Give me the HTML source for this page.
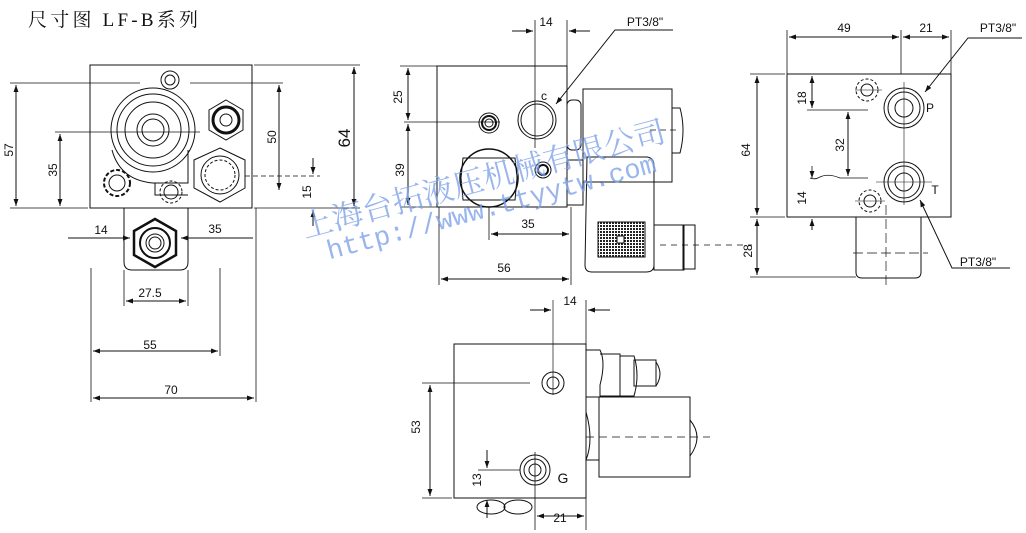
<!DOCTYPE html>
<html><head><meta charset="utf-8"><style>
html,body{margin:0;padding:0;background:#fff;}
svg{display:block;}
text{font-family:"Liberation Sans",sans-serif;font-size:12px;fill:#111;}
</style></head><body>
<svg width="1026" height="533" viewBox="0 0 1026 533" xmlns="http://www.w3.org/2000/svg">
<defs>
<marker id="a" viewBox="0 0 10 10" refX="10" refY="5" markerWidth="9" markerHeight="7" orient="auto-start-reverse" markerUnits="userSpaceOnUse"><path d="M0,1.5 L10,5 L0,8.5z" fill="#111"/></marker>
<pattern id="mesh" width="3" height="3" patternUnits="userSpaceOnUse"><rect width="3" height="3" fill="#fff"/><rect width="2" height="2" fill="#222"/></pattern>
</defs>
<text x="28" y="26" textLength="170" style="font-family:'Liberation Serif','Noto Serif CJK SC',serif;font-size:19px">尺寸图 LF-B系列</text>
<g fill="none" stroke="#111" stroke-width="1">
<!-- LEFT VIEW -->
<rect x="90" y="65" width="162" height="143"/>
<circle cx="170" cy="80" r="9"/><circle cx="170" cy="80" r="5"/>
<circle cx="153" cy="130" r="42"/><circle cx="153" cy="130" r="36"/><circle cx="153" cy="130" r="28"/>
<circle cx="153" cy="130" r="16"/><circle cx="153" cy="130" r="11"/>
<path d="M112,150 Q120,180 153,183 L188,183 L188,150"/>
<path d="M155,183 L155,195 L188,195"/>
<polygon points="226,100 243,110 243,130 226,140 209,130 209,110"/>
<circle cx="226" cy="120" r="13" stroke-width="3"/><circle cx="226" cy="120" r="6"/>
<polygon points="220,148 245,160 245,188 220,202 194,188 194,160"/>
<circle cx="220" cy="175" r="19"/><circle cx="220" cy="175" r="15" stroke-dasharray="3,2"/>
<circle cx="117" cy="183" r="13" stroke-dasharray="4,2" stroke-width="2"/><circle cx="117" cy="183" r="8"/>
<circle cx="171" cy="192" r="7"/><circle cx="171" cy="192" r="11" stroke-dasharray="3,2"/>
<path d="M124,208 L124,262 Q124,270 132,270 L180,270 Q188,270 188,262 L188,208"/>
<polygon points="155,219 176,231 176,255 155,267 134,255 134,231" stroke-width="2.5"/>
<circle cx="155" cy="243" r="15" stroke-width="2"/><circle cx="155" cy="243" r="9"/><circle cx="155" cy="243" r="6"/>
<!-- left dims -->
<line x1="10" y1="83" x2="140" y2="83" stroke-width=".8"/>
<line x1="190" y1="83" x2="283" y2="83" stroke-width=".8"/>
<line x1="10" y1="208" x2="88" y2="208" stroke-width=".8"/>
<line x1="55" y1="132" x2="200" y2="132" stroke-width=".8"/>
<line x1="254" y1="65" x2="360" y2="65" stroke-width=".8"/>
<line x1="254" y1="208" x2="360" y2="208" stroke-width=".8"/>
<line x1="245" y1="176" x2="320" y2="176" stroke-dasharray="5,3" stroke-width=".8"/>
<line x1="16" y1="85" x2="16" y2="206" marker-start="url(#a)" marker-end="url(#a)"/>
<line x1="60" y1="134" x2="60" y2="206" marker-start="url(#a)" marker-end="url(#a)"/>
<line x1="279" y1="85" x2="279" y2="190" marker-start="url(#a)" marker-end="url(#a)"/>
<line x1="354" y1="67" x2="354" y2="206" marker-start="url(#a)" marker-end="url(#a)"/>
<line x1="313" y1="158" x2="313" y2="174" marker-end="url(#a)"/>
<line x1="313" y1="226" x2="313" y2="210" marker-end="url(#a)"/>
<line x1="68" y1="238" x2="130" y2="238" marker-end="url(#a)"/>
<line x1="253" y1="238" x2="181" y2="238" marker-end="url(#a)"/>
<line x1="256" y1="208" x2="256" y2="402" stroke-width=".8"/>
<line x1="91" y1="268" x2="91" y2="402" stroke-width=".8"/>
<line x1="220" y1="268" x2="220" y2="356" stroke-width=".8"/>
<line x1="124" y1="270" x2="124" y2="306" stroke-width=".8"/>
<line x1="188" y1="270" x2="188" y2="306" stroke-width=".8"/>
<line x1="126" y1="301" x2="186" y2="301" marker-start="url(#a)" marker-end="url(#a)"/>
<line x1="93" y1="351" x2="218" y2="351" marker-start="url(#a)" marker-end="url(#a)"/>
<line x1="93" y1="398" x2="254" y2="398" marker-start="url(#a)" marker-end="url(#a)"/>
<!-- MIDDLE VIEW -->
<rect x="437" y="66" width="130" height="141"/>
<circle cx="537" cy="120" r="19"/><circle cx="537" cy="120" r="16"/>
<circle cx="489" cy="123" r="10"/><circle cx="489" cy="123" r="7" stroke-width="2"/><circle cx="489" cy="123" r="4"/>
<polygon points="463,158 515,158 517,178 515,200 463,200 461,178"/>
<circle cx="489" cy="178" r="29" stroke-width="1.5"/>
<circle cx="543" cy="170" r="8"/><circle cx="543" cy="170" r="5" stroke-width="2"/>
<rect x="567" y="100" width="14" height="50" rx="5"/>
<rect x="583" y="89" width="89" height="93"/>
<path d="M672,108 L680,108 Q686,130 680,153 L672,153"/>
<rect x="567" y="160" width="16" height="45"/>
<path d="M587,157 L646,157 Q654,157 654,166 L654,265 Q654,272 646,272 L592,272 Q585,272 585,265 Z"/>
<rect x="598" y="222" width="47" height="35" fill="url(#mesh)"/>
<rect x="617" y="236" width="7" height="7" fill="#fff"/>
<rect x="654" y="225" width="30" height="45"/>
<rect x="683" y="225" width="12" height="44"/>
<line x1="535" y1="20" x2="535" y2="148" stroke-width=".8"/>
<line x1="567" y1="20" x2="567" y2="66" stroke-width=".8"/>
<line x1="512" y1="31" x2="533" y2="31" marker-end="url(#a)"/>
<line x1="590" y1="31" x2="569" y2="31" marker-end="url(#a)"/>
<polyline points="673,30 615,30 556,104" marker-end="url(#a)"/>
<line x1="400" y1="66" x2="445" y2="66" stroke-width=".8"/>
<line x1="404" y1="122" x2="500" y2="122" stroke-width=".8"/>
<line x1="400" y1="207" x2="437" y2="207" stroke-width=".8"/>
<line x1="408" y1="68" x2="408" y2="120" marker-start="url(#a)" marker-end="url(#a)"/>
<line x1="408" y1="124" x2="408" y2="205" marker-start="url(#a)" marker-end="url(#a)"/>
<line x1="489" y1="207" x2="489" y2="240" stroke-width=".8"/>
<line x1="571" y1="207" x2="571" y2="285" stroke-width=".8"/>
<line x1="439" y1="207" x2="439" y2="285" stroke-width=".8"/>
<line x1="491" y1="234" x2="569" y2="234" marker-start="url(#a)" marker-end="url(#a)"/>
<line x1="441" y1="279" x2="569" y2="279" marker-start="url(#a)" marker-end="url(#a)"/>
<line x1="660" y1="245" x2="752" y2="245" stroke-dasharray="6,5" stroke-width=".8"/>
<line x1="650" y1="130" x2="680" y2="130" stroke-dasharray="6,4" stroke-width=".8"/>
<!-- RIGHT VIEW -->
<rect x="787" y="74" width="164" height="143"/>
<circle cx="904" cy="108" r="20"/><circle cx="904" cy="108" r="16"/><circle cx="904" cy="108" r="9"/>
<circle cx="904" cy="182" r="20"/><circle cx="904" cy="182" r="16"/><circle cx="904" cy="182" r="9"/>
<circle cx="867" cy="90" r="11" stroke-dasharray="3,2"/><circle cx="867" cy="90" r="6"/>
<circle cx="870" cy="201" r="11" stroke-dasharray="3,2"/><circle cx="870" cy="201" r="6"/>
<line x1="904" y1="82" x2="904" y2="205" stroke-width=".6"/>
<line x1="855" y1="90" x2="882" y2="90" stroke-width=".6"/>
<line x1="855" y1="201" x2="885" y2="201" stroke-width=".6"/>
<line x1="876" y1="182" x2="932" y2="182" stroke-width=".6"/>
<path d="M856,217 L856,272 Q856,278 862,278 L915,278 Q921,278 921,272 L921,217"/>
<line x1="886" y1="205" x2="886" y2="285" stroke-dasharray="10,4" stroke-width=".7"/>
<line x1="853" y1="253" x2="928" y2="253" stroke-dasharray="10,4" stroke-width=".7"/>
<line x1="787" y1="30" x2="787" y2="74" stroke-width=".8"/>
<line x1="901" y1="30" x2="901" y2="74" stroke-width=".8"/>
<line x1="951" y1="30" x2="951" y2="74" stroke-width=".8"/>
<line x1="789" y1="37" x2="899" y2="37" marker-start="url(#a)" marker-end="url(#a)"/>
<line x1="903" y1="37" x2="949" y2="37" marker-start="url(#a)" marker-end="url(#a)"/>
<polyline points="1022,38 968,38 925,92" marker-end="url(#a)"/>
<polyline points="1010,268 952,268 920,200" marker-end="url(#a)"/>
<line x1="750" y1="74" x2="785" y2="74" stroke-width=".8"/>
<line x1="750" y1="217" x2="785" y2="217" stroke-width=".8"/>
<line x1="750" y1="277" x2="856" y2="277" stroke-width=".8"/>
<line x1="757" y1="76" x2="757" y2="215" marker-start="url(#a)" marker-end="url(#a)"/>
<line x1="757" y1="219" x2="757" y2="275" marker-start="url(#a)" marker-end="url(#a)"/>
<line x1="807" y1="110" x2="868" y2="110" stroke-width=".8"/>
<line x1="812" y1="76" x2="812" y2="108" marker-start="url(#a)" marker-end="url(#a)"/>
<line x1="848" y1="112" x2="848" y2="176" marker-start="url(#a)" marker-end="url(#a)"/>
<path d="M810,178 Q815,180 820,177 Q828,173 840,178 L868,178" stroke-width=".8"/>
<line x1="812" y1="166" x2="812" y2="176" stroke-width=".8"/>
<line x1="812" y1="176" x2="812" y2="178" marker-end="url(#a)"/>
<line x1="812" y1="230" x2="812" y2="219" marker-end="url(#a)"/>
<!-- BOTTOM VIEW -->
<rect x="454" y="344" width="132" height="154"/>
<circle cx="553" cy="383" r="11"/><circle cx="553" cy="383" r="6"/>
<circle cx="535" cy="470" r="15"/><circle cx="535" cy="470" r="11"/><circle cx="535" cy="470" r="6"/>
<line x1="553" y1="300" x2="553" y2="395" stroke-width=".7"/>
<line x1="535" y1="452" x2="535" y2="530" stroke-width=".8"/>
<path d="M586,350 L600,350 Q606,362 600,385 L600,397 L586,397"/>
<path d="M600,354 L620,354 L620,396 L600,396"/>
<path d="M620,356 L634,356 Q640,375 634,396 L620,396"/>
<rect x="634" y="360" width="22" height="26"/>
<path d="M656,362 Q664,374 656,386"/>
<rect x="599" y="397" width="91" height="80"/>
<path d="M690,420 Q704,437 690,456"/>
<path d="M586,412 Q594,440 586,460 L599,460"/>
<line x1="586" y1="437" x2="710" y2="437" stroke-dasharray="8,5" stroke-width=".7"/>
<ellipse cx="491" cy="507" rx="14" ry="7"/><ellipse cx="518" cy="507" rx="14" ry="7"/>
<line x1="586" y1="300" x2="586" y2="344" stroke-width=".8"/>
<line x1="530" y1="310" x2="551" y2="310" marker-end="url(#a)"/>
<line x1="610" y1="310" x2="588" y2="310" marker-end="url(#a)"/>
<line x1="422" y1="383" x2="530" y2="383" stroke-width=".8"/>
<line x1="422" y1="498" x2="452" y2="498" stroke-width=".8"/>
<line x1="430" y1="385" x2="430" y2="496" marker-start="url(#a)" marker-end="url(#a)"/>
<line x1="478" y1="470" x2="520" y2="470" stroke-width=".7"/>
<line x1="487" y1="450" x2="487" y2="468" marker-end="url(#a)"/>
<line x1="487" y1="518" x2="487" y2="500" marker-end="url(#a)"/>
<line x1="586" y1="498" x2="586" y2="530" stroke-width=".8"/>
<line x1="537" y1="516" x2="584" y2="516" marker-start="url(#a)" marker-end="url(#a)"/>
</g>
<!-- labels -->
<g>
<text transform="translate(13,150) rotate(-90)" text-anchor="middle">57</text>
<text transform="translate(57,170) rotate(-90)" text-anchor="middle">35</text>
<text transform="translate(276,137) rotate(-90)" text-anchor="middle">50</text>
<text transform="translate(350,138) rotate(-90)" text-anchor="middle" style="font-size:17px">64</text>
<text transform="translate(311,192) rotate(-90)" text-anchor="middle">15</text>
<text x="101" y="234" text-anchor="middle">14</text>
<text x="215" y="233" text-anchor="middle">35</text>
<text x="150" y="297" text-anchor="middle">27.5</text>
<text x="150" y="349" text-anchor="middle">55</text>
<text x="171" y="394" text-anchor="middle">70</text>
<text x="546" y="26" text-anchor="middle">14</text>
<text x="645" y="26" text-anchor="middle">PT3/8"</text>
<text x="544" y="100" text-anchor="middle">c</text>
<text transform="translate(402,97) rotate(-90)" text-anchor="middle">25</text>
<text transform="translate(404,170) rotate(-90)" text-anchor="middle">39</text>
<text x="528" y="228" text-anchor="middle">35</text>
<text x="504" y="272" text-anchor="middle">56</text>
<text x="844" y="32" text-anchor="middle">49</text>
<text x="926" y="32" text-anchor="middle">21</text>
<text x="998" y="32" text-anchor="middle">PT3/8"</text>
<text x="930" y="112" text-anchor="middle">P</text>
<text x="935" y="194" text-anchor="middle">T</text>
<text x="978" y="266" text-anchor="middle">PT3/8"</text>
<text transform="translate(750,150) rotate(-90)" text-anchor="middle">64</text>
<text transform="translate(752,251) rotate(-90)" text-anchor="middle">28</text>
<text transform="translate(806,98) rotate(-90)" text-anchor="middle">18</text>
<text transform="translate(844,145) rotate(-90)" text-anchor="middle">32</text>
<text transform="translate(806,198) rotate(-90)" text-anchor="middle">14</text>
<text x="570" y="305" text-anchor="middle">14</text>
<text transform="translate(420,427) rotate(-90)" text-anchor="middle">53</text>
<text transform="translate(481,480) rotate(-90)" text-anchor="middle">13</text>
<text x="563" y="483" text-anchor="middle" style="font-size:14px">G</text>
<text x="560" y="522" text-anchor="middle">21</text>
</g>
<!-- watermark -->
<g transform="translate(305,238) rotate(-15)">
<text x="0" y="0" style="font-family:'Liberation Serif','Noto Serif CJK SC',serif;font-size:31px;fill:#7fa2ea;fill-opacity:.8" textLength="375">上海台拓液压机械有限公司</text>
<text x="18" y="27" style="font-family:'Liberation Mono',monospace;font-size:27px;fill:#7fa2ea;fill-opacity:.8" textLength="340">http://www.ttyytw.com</text>
</g>
</svg>
</body></html>
